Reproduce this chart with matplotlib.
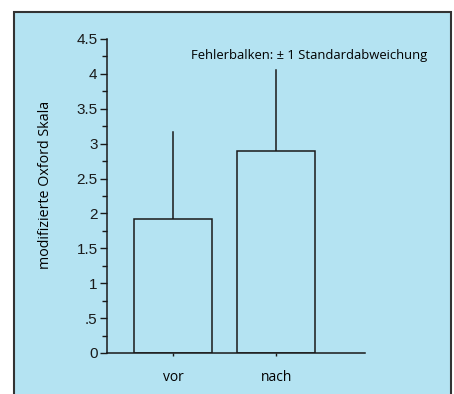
import matplotlib
matplotlib.use("Agg")
import matplotlib.pyplot as plt
from matplotlib.patches import Rectangle
from matplotlib.ticker import MultipleLocator, FixedLocator

groups = ["vor", "nach"]
means = [1.92, 2.90]
sd = [1.25, 1.16]
y_ticks = [0, 0.5, 1, 1.5, 2, 2.5, 3, 3.5, 4, 4.5]
y_labels = ["0", ".5", "1", "1.5", "2", "2.5", "3", "3.5", "4", "4.5"]
note = "Fehlerbalken: \u00b1 1 Standardabweichung"

bg = "#b4e3f2"
W, H = 454, 394
fig = plt.figure(figsize=(W / 100, H / 100), dpi=100)
fig.patch.set_facecolor("white")
# blue panel with dark frame, kept behind the axes
fig.patches.append(Rectangle((13.5 / W, -0.05), (451 - 13.5) / W, 1.05 - 11.5 / H,
                             transform=fig.transFigure, facecolor=bg,
                             edgecolor="#333333", linewidth=1.5, zorder=-5))

ax = fig.add_axes([107 / W, 1 - 353 / H, (365 - 107) / W, (353 - 39) / H])
ax.set_facecolor("none")

x = list(range(len(groups)))
ax.bar(x, means, width=0.76, facecolor=bg, edgecolor="#1a1a1a", linewidth=1.1, zorder=2)
for xi, m, s in zip(x, means, sd):
    ax.plot([xi, xi], [m, m + s], color="#1a1a1a", linewidth=1.1, zorder=1)

ax.set_ylim(0, 4.5)
ax.set_xlim(-0.64, 1.86)
ax.spines["top"].set_visible(False)
ax.spines["right"].set_visible(False)
for s in ("left", "bottom"):
    ax.spines[s].set_linewidth(1.1)
    ax.spines[s].set_color("#1a1a1a")

ax.yaxis.set_major_locator(FixedLocator(y_ticks))
ax.set_yticklabels(y_labels, fontfamily="Liberation Sans", fontsize=11, color="#1a1a1a")
ax.yaxis.set_minor_locator(MultipleLocator(0.25))
ax.tick_params(axis="y", which="major", length=5, width=1.0, color="#1a1a1a", pad=1.8)
ax.tick_params(axis="y", which="minor", length=3.6, width=1.0, color="#1a1a1a")
ax.set_xticks(x)
ax.set_xticklabels(groups, fontfamily="Open Sans", fontsize=10)
ax.tick_params(axis="x", length=2.5, width=1.0, color="#1a1a1a", pad=10)

ax.set_ylabel("modifizierte Oxford Skala", fontfamily="Open Sans", fontsize=10.3)
ax.yaxis.set_label_coords(-0.21, 0.535)

ax.text(309.5 / W, 1 - 55 / H, note, transform=fig.transFigure, ha="center", va="center",
        fontfamily="Open Sans", fontsize=9.4)

fig.savefig("out.png", dpi=100)
